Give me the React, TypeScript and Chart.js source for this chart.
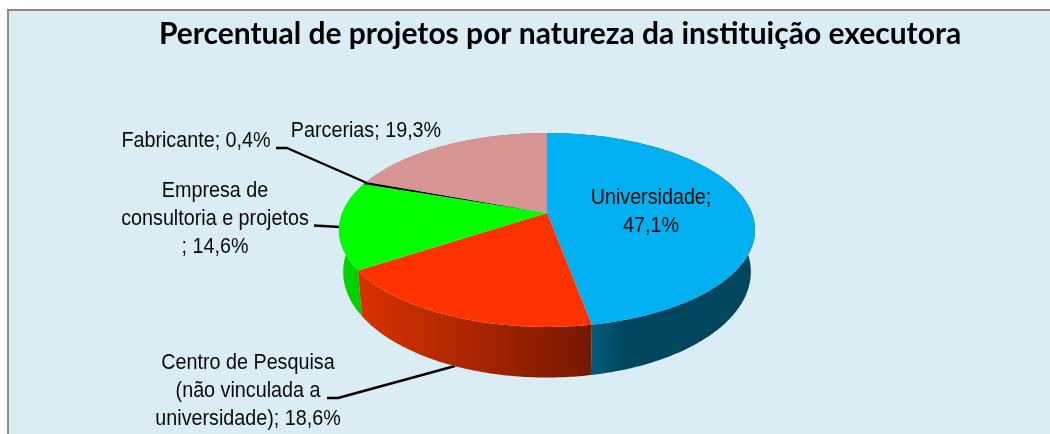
import React, { useEffect, useRef } from "react";
import { Chart, registerables } from "chart.js";

Chart.register(...registerables);

const titleText = "Percentual de projetos por natureza da instituição executora";
const categories = ["Universidade", "Centro de Pesquisa", "Empresa de consultoria e projetos", "Fabricante", "Parcerias"];
const values = [47.1, 18.6, 14.6, 0.4, 19.3];
const topColors = ["#00B0F0", "#FF3300", "#00FF00", "#000000", "#D69492"];
// wall gradient stops per slice: [x, colour]
const wallStops: [number, string][][] = [
  [[592, "#045C7C"], [625, "#00465F"], [755, "#00465F"]],
  [[358, "#D93300"], [480, "#A82400"], [592, "#751800"]],
  [[340, "#00D800"], [362, "#00CC00"]],
  [[340, "#000000"], [362, "#000000"]],
  [[340, "#A06E6D"], [547, "#A06E6D"]],
];
const labelTexts = [
  ["Universidade;", "47,1%"],
  ["Centro de Pesquisa", "(não vinculada a", "universidade); 18,6%"],
  ["Empresa de", "consultoria e projetos", "; 14,6%"],
  ["Fabricante; 0,4%"],
  ["Parcerias; 19,3%"],
];
const labelCenters = [[651, 198], [248, 363], [215, 191], [196, 141], [366, 131]];
const leaders = [
  [],
  [[327, 398], [338, 398], [455, 366]],
  [[314, 225.5], [340, 227]],
  [[276, 148], [287, 148], [367, 183]],
  [],
];

const hub = { x: 547, y: 213, a: 204.8, b: 94, p: 0.175 };
const low = { x: 547, y: 253.4, a: 200.7, b: 102.4, p: 0.175 };

function project(d: typeof hub, t: number): [number, number] {
  const u = Math.sin(t);
  const v = -Math.cos(t);
  const w = 1 - d.p * v;
  return [d.x + (d.a * u) / w, d.y + (d.b * v) / w];
}

const pie3d = {
  id: "pie3d",
  beforeDraw(chart: any) {
    const ctx = chart.ctx;
    ctx.save();
    ctx.fillStyle = "#FFFFFF";
    ctx.fillRect(0, 0, 1050, 434);
    ctx.fillStyle = "#DAEDF4";
    ctx.fillRect(8, 10, 1042, 424);
    ctx.fillStyle = "#8C8C8C";
    ctx.fillRect(7, 9, 1043, 2);
    ctx.fillRect(7, 9, 2, 425);
    ctx.restore();
  },
  beforeDatasetDraw(chart: any) {
    const ctx = chart.ctx;
    const arcs = chart.getDatasetMeta(0).data;
    const steps = (s: number, e: number) => Math.max(2, Math.ceil((e - s) * 80));

    // leader lines lie under the pie
    ctx.save();
    ctx.strokeStyle = "#000000";
    ctx.lineWidth = 2.4;
    ctx.lineJoin = "round";
    leaders.forEach((pts) => {
      if (!pts.length) return;
      ctx.beginPath();
      pts.forEach((p, i) => (i ? ctx.lineTo(p[0], p[1]) : ctx.moveTo(p[0], p[1])));
      ctx.stroke();
    });

    // walls
    arcs.forEach((arc: any, i: number) => {
      const s = arc.startAngle + Math.PI / 2;
      const e = arc.endAngle + Math.PI / 2;
      const n = steps(s, e);
      const stops = wallStops[i];
      const x0 = stops[0][0];
      const x1 = stops[stops.length - 1][0];
      const g = ctx.createLinearGradient(x0, 0, x1, 0);
      stops.forEach(([x, c]) => g.addColorStop((x - x0) / (x1 - x0), c));
      ctx.fillStyle = g;
      ctx.beginPath();
      for (let k = 0; k <= n; k++) {
        const [x, y] = project(hub, s + ((e - s) * k) / n);
        k ? ctx.lineTo(x, y) : ctx.moveTo(x, y);
      }
      for (let k = n; k >= 0; k--) {
        const [x, y] = project(low, s + ((e - s) * k) / n);
        ctx.lineTo(x, y);
      }
      ctx.closePath();
      ctx.fill();
    });

    // top face
    arcs.forEach((arc: any) => {
      const s = arc.startAngle + Math.PI / 2;
      const e = arc.endAngle + Math.PI / 2;
      const n = steps(s, e);
      ctx.fillStyle = arc.options.backgroundColor;
      ctx.beginPath();
      ctx.moveTo(hub.x, hub.y);
      for (let k = 0; k <= n; k++) {
        const [x, y] = project(hub, s + ((e - s) * k) / n);
        ctx.lineTo(x, y);
      }
      ctx.closePath();
      ctx.fill();
    });

    // labels: tall, horizontally condensed lettering
    ctx.fillStyle = "#0A0A0A";
    ctx.font = '22px "Liberation Sans"';
    ctx.textAlign = "center";
    ctx.textBaseline = "middle";
    labelTexts.forEach((lines, i) => {
      lines.forEach((t, k) => {
        ctx.save();
        ctx.translate(labelCenters[i][0], labelCenters[i][1] + k * 28);
        ctx.scale(0.897, 1);
        ctx.fillText(t, 0, 0);
        ctx.restore();
      });
    });
    ctx.restore();
    return false;
  },
};

export default function App() {
  const ref = useRef<HTMLCanvasElement>(null);
  useEffect(() => {
    document.body.style.margin = "0";
    const chart = new Chart(ref.current as HTMLCanvasElement, {
      type: "pie",
      data: {
        labels: categories,
        datasets: [{ data: values, backgroundColor: topColors, borderWidth: 0, clip: false } as any],
      },
      options: {
        responsive: false,
        animation: false,
        layout: { padding: { left: 70, right: 0, top: 0, bottom: 0 } },
        plugins: {
          legend: { display: false },
          tooltip: { enabled: false },
          title: {
            display: true,
            text: titleText,
            fullSize: false,
            color: "#000000",
            font: { family: "Lato", size: 30, weight: "bold" },
            padding: { top: 16, bottom: 10 },
          },
        },
      } as any,
      plugins: [pie3d],
    });
    return () => chart.destroy();
  }, []);
  return <canvas ref={ref} width={1050} height={434} style={{ display: "block" }} />;
}
